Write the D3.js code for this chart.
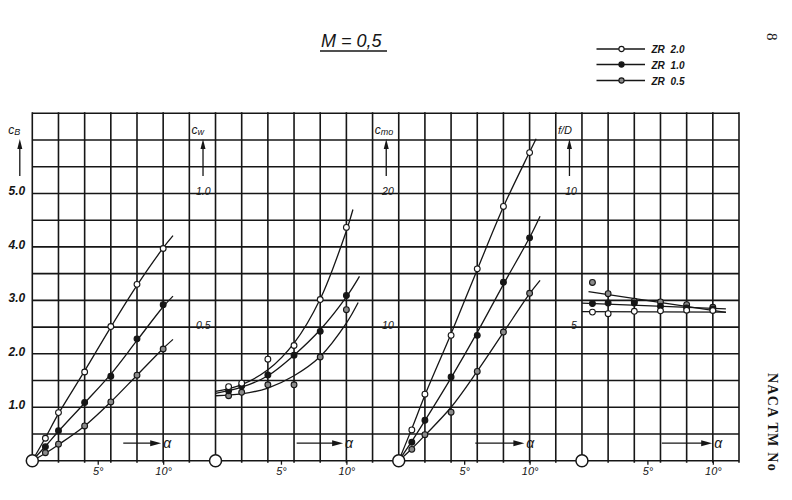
<!DOCTYPE html>
<html><head><meta charset="utf-8">
<script src="https://cdn.jsdelivr.net/npm/d3@7"></script>
<style>body{margin:0;background:#fff} svg{display:block}</style>
</head><body><svg id="c" width="792" height="500"></svg>
<script>
// ---------------- DATA ----------------
const seriesNames = ["ZR 2.0", "ZR 1.0", "ZR 0.5"];
const alpha = [1, 2, 4, 6, 8, 10];
const alphaFD = [0.8, 2, 4, 6, 8, 10];

// c_B (panel 1)
const cB_20 = [0.42, 0.90, 1.66, 2.51, 3.30, 3.97];
const cB_10 = [0.26, 0.56, 1.09, 1.58, 2.28, 2.92];
const cB_05 = [0.15, 0.31, 0.65, 1.10, 1.60, 2.09];
const cBFitAlpha = [0, 1, 2, 4, 6, 8, 10, 10.75];
const cBFit_20 = [0, 0.43, 0.88, 1.68, 2.50, 3.28, 3.98, 4.21];
const cBFit_10 = [0, 0.27, 0.55, 1.08, 1.62, 2.25, 2.88, 3.08];
const cBFit_05 = [0, 0.14, 0.30, 0.65, 1.10, 1.60, 2.10, 2.27];

// c_w (panel 2)
const cW_20 = [0.277, 0.290, 0.380, 0.431, 0.603, 0.873];
const cW_10 = [0.262, 0.280, 0.321, 0.395, 0.484, 0.618];
const cW_05 = [0.243, 0.256, 0.284, 0.284, 0.388, 0.565];
const cWFitAlpha_20 = [0, 2, 4, 6, 8, 10, 10.5];
const cWFit_20 = [0.259, 0.285, 0.340, 0.440, 0.605, 0.860, 0.940];
const cWFitAlpha_10 = [0, 2, 4, 6, 8, 10, 11];
const cWFit_10 = [0.252, 0.275, 0.318, 0.395, 0.490, 0.613, 0.690];
const cWFitAlpha_05 = [0, 2, 4, 6, 8, 10, 10.9];
const cWFit_05 = [0.243, 0.250, 0.272, 0.318, 0.390, 0.515, 0.592];

// c_mo (panel 3)
const cM_20 = [2.3, 4.98, 9.38, 14.36, 19.03, 23.06];
const cM_10 = [1.38, 3.03, 6.26, 9.38, 13.35, 16.68];
const cM_05 = [0.85, 1.95, 3.63, 6.68, 9.63, 12.53];
const cMFitAlpha_20 = [0, 1, 2, 4, 6, 8, 10, 10.5];
const cMFit_20 = [0, 2.4, 4.9, 9.5, 14.3, 19.0, 23.1, 24.1];
const cMFitAlpha_10 = [0, 1, 2, 4, 6, 8, 10, 10.8];
const cMFit_10 = [0, 1.45, 3.0, 6.2, 9.6, 13.2, 16.7, 18.3];
const cMFitAlpha_05 = [0, 1, 2, 4, 6, 8, 10, 10.8];
const cMFit_05 = [0, 0.9, 1.9, 4.0, 6.7, 9.6, 12.5, 13.5];

// f/D (panel 4)
const fD_20 = [5.56, 5.50, 5.59, 5.61, 5.63, 5.62];
const fD_10 = [5.88, 5.90, 5.90, 5.78, 5.72, 5.68];
const fD_05 = [6.67, 6.25, 5.97, 5.94, 5.84, 5.74];
const fDFitAlpha_20 = [0, 11];
const fDFit_20 = [5.58, 5.56];
const fDFitAlpha_10 = [0, 11];
const fDFit_10 = [5.90, 5.68];
const fDFitAlpha_05 = [0.5, 11];
const fDFit_05 = [6.33, 5.55];

// tick labels
const yTicks1 = [1, 2, 3, 4, 5];
const yTicks2 = [0.5, 1.0];
const yTicks3 = [10, 20];
const yTicks4 = [5, 10];
const xTicks = [5, 10];
const yLabels = ["cB", "cw", "cmo", "f/D"];

// ---------------- LAYOUT ----------------
const svg = d3.select("#c");
const gx0 = 32.3, gx1 = 739, gyTop = 113.3, gyBot = 460.7;
const nCols = 27, nRows = 13;
const gridX = d3.scaleLinear().domain([0, nCols]).range([gx0, gx1]);
const gridY = d3.scaleLinear().domain([0, nRows]).range([gyBot, gyTop]);
const ink = "#161616";
const hand = "'Liberation Sans', 'DejaVu Sans', sans-serif";

// grid
const grid = svg.append("g").attr("stroke", ink).attr("stroke-width", 1.6);
grid.selectAll("line.v").data(d3.range(0, nCols + 1)).join("line")
  .attr("x1", d => gridX(d)).attr("x2", d => gridX(d))
  .attr("y1", gyTop - 1).attr("y2", gyBot + 2);
grid.selectAll("line.h").data(d3.range(0, nRows + 1)).join("line")
  .attr("x1", gx0).attr("x2", gx1)
  .attr("y1", d => gridY(d)).attr("y2", d => gridY(d));

const panels = [
  { col: 0, ymax: 6.5, ticks: yTicks1, fmt: d3.format(".1f"), bold: true,
    pts: [cB_20, cB_10, cB_05], alphaPts: alpha,
    fits: [[cBFitAlpha, cBFit_20], [cBFitAlpha, cBFit_10], [cBFitAlpha, cBFit_05]],
    arrow: [6.95, 9.85] },
  { col: 7, ymax: 1.3, ticks: yTicks2, fmt: d3.format(".1f"), bold: false,
    pts: [cW_20, cW_10, cW_05], alphaPts: alpha,
    fits: [[cWFitAlpha_20, cWFit_20], [cWFitAlpha_10, cWFit_10], [cWFitAlpha_05, cWFit_05]],
    arrow: [6.2, 9.75] },
  { col: 14, ymax: 26, ticks: yTicks3, fmt: d3.format("d"), bold: false,
    pts: [cM_20, cM_10, cM_05], alphaPts: alpha,
    fits: [[cMFitAlpha_20, cMFit_20], [cMFitAlpha_10, cMFit_10], [cMFitAlpha_05, cMFit_05]],
    arrow: [5.85, 9.6] },
  { col: 21, ymax: 13, ticks: yTicks4, fmt: d3.format("d"), bold: false,
    pts: [fD_20, fD_10, fD_05], alphaPts: alphaFD,
    fits: [[fDFitAlpha_20, fDFit_20], [fDFitAlpha_10, fDFit_10], [fDFitAlpha_05, fDFit_05]],
    arrow: [6.1, 9.95], straight: true }
];

const markerFill = ["#fff", ink, "#8a8a8a"];

function marker(sel, i, r) {
  sel.attr("r", r).attr("fill", markerFill[i]).attr("stroke", ink).attr("stroke-width", 1.1);
}

panels.forEach((p, pi) => {
  const x = d3.scaleLinear().domain([0, 14]).range([gridX(p.col), gridX(p.col + 7)]);
  const y = d3.scaleLinear().domain([0, p.ymax]).range([gyBot, gyTop]);
  const g = svg.append("g");

  // y tick labels
  const ya = g.append("g").attr("transform", `translate(${x(0)},0)`)
    .call(d3.axisLeft(y).tickValues(p.ticks).tickFormat(p.fmt).tickSize(0).tickPadding(pi === 0 ? 7 : 5));
  ya.select(".domain").remove();
  ya.selectAll("text").attr("font-family", hand).attr("font-style", "italic")
    .attr("font-weight", p.bold ? "bold" : "normal")
    .attr("font-size", p.bold ? 12 : 10.5).attr("fill", ink).attr("dy", "0.1em");

  // x tick labels
  const xa = g.append("g").attr("transform", `translate(0,${gyBot})`)
    .call(d3.axisBottom(x).tickValues(xTicks).tickFormat(d => d + "°").tickSize(4).tickPadding(3));
  xa.select(".domain").remove();
  xa.selectAll("line").attr("stroke", ink).attr("stroke-width", 1.3);
  xa.selectAll("text").attr("font-family", hand).attr("font-style", "italic")
    .attr("font-size", 11).attr("fill", ink);

  // y label and arrow
  const ax = x(0);
  const yl = g.append("text").attr("x", ax - 24).attr("y", 134)
    .attr("font-family", hand).attr("font-style", "italic").attr("font-size", 12).attr("fill", ink);
  const lab = yLabels[pi];
  if (lab === "f/D") {
    yl.text("f/D").attr("font-size", 11);
  } else {
    yl.append("tspan").text("c");
    yl.append("tspan").attr("font-size", 9).attr("dy", 1).text(lab.slice(1));
  }
  g.append("line").attr("x1", ax - 12.5).attr("x2", ax - 12.5).attr("y1", 176).attr("y2", 146)
    .attr("stroke", ink).attr("stroke-width", 1.3);
  g.append("path").attr("d", `M${ax - 12.5},139 L${ax - 15},149 L${ax - 10},149 Z`).attr("fill", ink);

  // alpha arrow
  const ay = gyBot - 17.5;
  const a0 = x(p.arrow[0]), a1 = x(p.arrow[1]);
  g.append("line").attr("x1", a0).attr("x2", a1 - 6).attr("y1", ay).attr("y2", ay)
    .attr("stroke", ink).attr("stroke-width", 1.3);
  g.append("path").attr("d", `M${a1},${ay} L${a1 - 11},${ay - 3} L${a1 - 11},${ay + 3} Z`).attr("fill", ink);
  g.append("text").attr("x", a1 + 2).attr("y", ay + 4.5).text("α")
    .attr("font-family", hand).attr("font-style", "italic").attr("font-size", 14).attr("fill", ink);

  // fitted curves
  const line = d3.line().x(d => x(d[0])).y(d => y(d[1]))
    .curve(p.straight ? d3.curveLinear : d3.curveCatmullRom.alpha(0.5));
  p.fits.forEach(f => {
    const pts = f[0].map((a, k) => [a, f[1][k]]);
    g.append("path").attr("d", line(pts)).attr("fill", "none")
      .attr("stroke", ink).attr("stroke-width", 1.3);
  });

  // markers (draw ZR 0.5 first so others sit on top)
  [2, 1, 0].forEach(si => {
    g.selectAll(null).data(p.alphaPts.map((a, k) => [a, p.pts[si][k]])).join("circle")
      .attr("cx", d => x(d[0])).attr("cy", d => y(d[1]))
      .call(marker, si, 2.9);
  });

  // origin circle
  g.append("circle").attr("cx", x(0)).attr("cy", y(0)).attr("r", 6)
    .attr("fill", "#fff").attr("stroke", ink).attr("stroke-width", 1.5);
});

// title
svg.append("text").attr("x", 321).attr("y", 47).text("M = 0,5")
  .attr("font-family", hand).attr("font-style", "italic").attr("font-size", 18).attr("fill", ink);
svg.append("line").attr("x1", 320).attr("x2", 387).attr("y1", 51).attr("y2", 51)
  .attr("stroke", ink).attr("stroke-width", 1.6);

// legend
const legY = [49, 64.5, 80.5];
const leg = svg.append("g");
seriesNames.forEach((s, i) => {
  leg.append("line").attr("x1", 596.5).attr("x2", 645).attr("y1", legY[i]).attr("y2", legY[i])
    .attr("stroke", ink).attr("stroke-width", 1.4);
  leg.append("circle").attr("cx", 621.5).attr("cy", legY[i]).call(marker, i, 2.6);
  leg.append("text").attr("x", 651.5).attr("y", legY[i] + 4).text(s)
    .attr("font-family", hand).attr("font-style", "italic").attr("font-weight", "bold")
    .attr("font-size", 10).attr("fill", ink).attr("word-spacing", 3);
});

// page annotations (rotated)
svg.append("text").attr("transform", "translate(767,33) rotate(90)").text("8")
  .attr("font-family", "'Liberation Serif', serif").attr("font-size", 15).attr("fill", ink);
svg.append("text").attr("transform", "translate(767.5,373) rotate(90)").text("NACA TM No")
  .attr("font-family", "'Liberation Serif', serif").attr("font-weight", "bold")
  .attr("font-size", 14).attr("letter-spacing", 1.3).attr("fill", ink);
</script></body></html>
